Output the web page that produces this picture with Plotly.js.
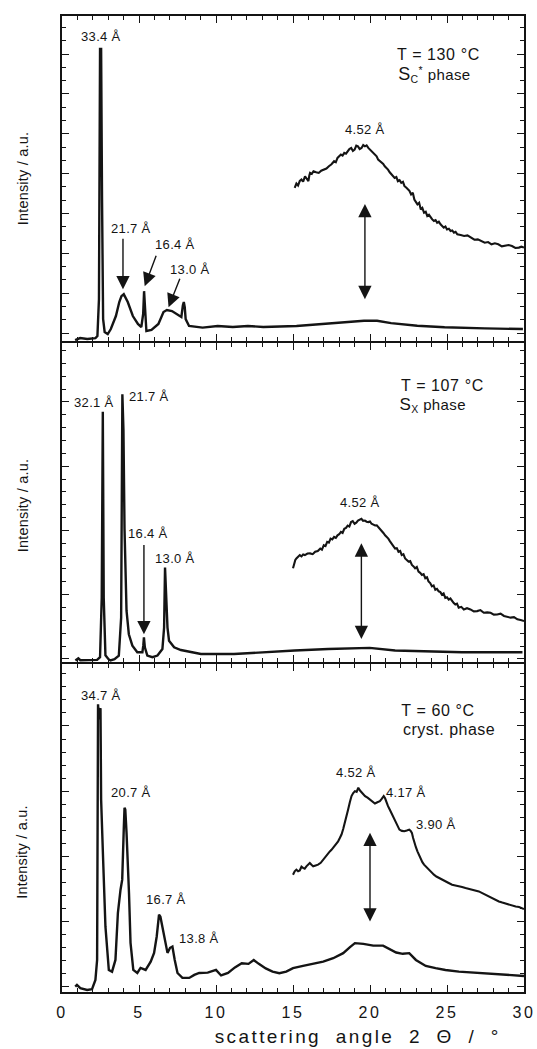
<!DOCTYPE html>
<html>
<head>
<meta charset="utf-8">
<script src="https://cdn.plot.ly/plotly-3.0.1.min.js"></script>
<style>
  html, body { margin: 0; padding: 0; background: #fff; }
  #chart { width: 537px; height: 1049px; }
  #chart .xtick text { letter-spacing: 2.5px; }
</style>
</head>
<body>
<div id="chart"></div>
<script>
// ---- 130 °C, SC* phase (top panel) ----
const topX = [0.85, 1.18, 1.64, 2.17, 2.30, 2.40, 2.47, 2.54, 2.60, 2.67, 2.77, 2.97, 3.17, 3.50, 3.72, 3.86, 4.01, 4.13, 4.27, 4.60, 4.93, 5.15, 5.27, 5.33, 5.39, 5.48, 5.81, 6.26, 6.59, 6.81, 7.14, 7.47, 7.75, 7.85, 7.91, 7.97, 8.03, 8.25, 8.68, 9.13, 10.11, 11.09, 12.07, 13.07, 15.23, 17.65, 18.63, 19.61, 20.46, 21.37, 23.07, 24.84, 27.45, 29.93];
const topY = [-0.53, -0.38, -0.45, -0.38, -0.23, 2.55, 21.38, 21.38, 10.05, 1.05, 0.08, -0.08, 0.30, 1.28, 2.33, 2.78, 2.93, 2.70, 2.33, 1.28, 0.68, 0.45, 1.43, 3.15, 1.43, 0.15, 0.23, 0.68, 1.58, 1.73, 1.65, 1.43, 1.20, 2.10, 2.33, 1.95, 1.05, 0.53, 0.45, 0.41, 0.53, 0.45, 0.53, 0.45, 0.53, 0.75, 0.86, 0.92, 0.92, 0.75, 0.55, 0.43, 0.35, 0.30];
const topWideX = [15.11, 15.22, 15.33, 15.44, 15.55, 15.66, 15.78, 15.89, 16.00, 16.06, 16.11, 16.22, 16.33, 16.50, 16.67, 16.83, 17.00, 17.17, 17.33, 17.50, 17.67, 17.78, 17.89, 18.00, 18.11, 18.22, 18.33, 18.44, 18.55, 18.66, 18.78, 18.89, 19.00, 19.11, 19.22, 19.33, 19.45, 19.56, 19.67, 19.78, 19.89, 20.00, 20.11, 20.22, 20.32, 20.43, 20.53, 20.64, 20.75, 20.86, 20.96, 21.07, 21.17, 21.28, 21.39, 21.50, 21.60, 21.71, 21.81, 21.92, 22.03, 22.14, 22.24, 22.35, 22.45, 22.56, 22.67, 22.78, 22.88, 22.98, 23.08, 23.19, 23.30, 23.40, 23.51, 23.62, 23.72, 23.83, 23.94, 24.04, 24.15, 24.26, 24.36, 24.47, 24.58, 24.68, 24.79, 24.90, 25.00, 25.12, 25.23, 25.34, 25.45, 25.56, 25.67, 25.89, 26.11, 26.33, 26.56, 26.78, 27.00, 27.22, 27.45, 27.67, 27.89, 28.11, 28.33, 28.56, 28.78, 29.00, 29.22, 29.44, 29.67, 29.83, 30.00];
const topWideY = [10.93, 11.25, 11.10, 11.45, 11.55, 11.40, 11.80, 11.62, 11.43, 11.85, 12.05, 11.98, 12.18, 12.10, 12.05, 12.22, 12.30, 12.38, 12.55, 12.70, 12.93, 12.85, 13.18, 13.30, 13.43, 13.35, 13.56, 13.50, 13.68, 13.85, 13.93, 13.70, 13.80, 14.10, 14.05, 13.85, 13.93, 14.15, 14.05, 14.12, 13.93, 13.80, 13.68, 13.60, 13.43, 13.30, 13.05, 12.95, 12.80, 12.72, 12.55, 12.45, 12.30, 12.10, 11.93, 11.85, 11.68, 11.75, 11.43, 11.50, 11.30, 11.38, 11.05, 10.95, 10.80, 10.70, 10.43, 10.55, 10.05, 9.90, 9.68, 9.80, 9.30, 9.42, 9.05, 9.12, 8.80, 8.90, 8.68, 8.55, 8.43, 8.50, 8.30, 8.38, 8.18, 8.05, 7.93, 8.02, 7.80, 7.85, 7.68, 7.72, 7.55, 7.62, 7.43, 7.38, 7.30, 7.35, 7.18, 7.02, 7.05, 6.95, 6.80, 6.85, 6.68, 6.75, 6.68, 6.52, 6.55, 6.62, 6.55, 6.40, 6.43, 6.50, 6.43];

// ---- 107 °C, SX phase (middle panel) ----
const midX = [0.87, 1.06, 1.19, 1.65, 2.28, 2.47, 2.58, 2.65, 2.71, 2.82, 3.02, 3.15, 3.41, 3.69, 3.84, 3.92, 3.99, 4.06, 4.19, 4.34, 4.57, 4.89, 5.22, 5.28, 5.32, 5.38, 5.54, 5.87, 6.20, 6.52, 6.63, 6.69, 6.76, 6.85, 6.95, 7.28, 7.72, 8.37, 9.02, 11.17, 12.94, 15.11, 17.29, 19.46, 19.98, 21.63, 23.81, 25.98, 28.15, 29.90];
const midY = [-0.12, 0.05, -0.10, -0.10, -0.08, 0.13, 4.75, 19.23, 4.75, 0.28, -0.02, -0.12, -0.02, 0.26, 3.21, 20.59, 17.82, 10.13, 3.75, 1.92, 1.03, 0.52, 0.52, 1.05, 1.67, 0.90, 0.26, 0.13, 0.26, 0.77, 2.44, 7.11, 4.75, 2.44, 1.42, 0.90, 0.69, 0.52, 0.38, 0.38, 0.52, 0.65, 0.77, 0.85, 0.86, 0.65, 0.59, 0.52, 0.52, 0.52];
const midWideX = [15.00, 15.08, 15.15, 15.22, 15.33, 15.44, 15.55, 15.66, 15.77, 15.94, 16.11, 16.28, 16.44, 16.61, 16.77, 16.88, 17.00, 17.11, 17.22, 17.33, 17.44, 17.55, 17.67, 17.78, 17.89, 18.00, 18.11, 18.22, 18.33, 18.44, 18.55, 18.66, 18.77, 18.88, 19.00, 19.11, 19.22, 19.33, 19.44, 19.55, 19.67, 19.78, 19.89, 20.00, 20.10, 20.22, 20.33, 20.44, 20.54, 20.65, 20.76, 20.87, 20.98, 21.08, 21.19, 21.30, 21.41, 21.52, 21.63, 21.74, 21.85, 21.96, 22.06, 22.17, 22.28, 22.39, 22.50, 22.61, 22.72, 22.83, 22.93, 23.04, 23.15, 23.26, 23.37, 23.48, 23.59, 23.70, 23.80, 23.91, 24.02, 24.13, 24.24, 24.35, 24.46, 24.57, 24.67, 24.78, 24.89, 25.00, 25.11, 25.22, 25.33, 25.44, 25.54, 25.65, 25.76, 25.93, 26.09, 26.30, 26.52, 26.74, 26.96, 27.17, 27.39, 27.61, 27.83, 28.04, 28.26, 28.48, 28.70, 28.91, 29.13, 29.35, 29.57, 29.78, 30.00];
const midWideY = [7.05, 7.45, 7.70, 7.82, 7.95, 8.08, 7.98, 8.12, 8.08, 8.20, 8.21, 8.15, 8.34, 8.40, 8.59, 8.50, 8.85, 8.78, 9.11, 9.05, 9.36, 9.30, 9.49, 9.42, 9.62, 9.70, 9.88, 9.80, 10.13, 10.20, 10.38, 10.30, 10.65, 10.72, 10.52, 10.60, 10.77, 10.85, 10.90, 10.75, 10.77, 10.68, 10.65, 10.70, 10.52, 10.45, 10.38, 10.40, 10.26, 10.18, 10.00, 9.80, 9.62, 9.50, 9.36, 9.15, 8.98, 8.85, 8.59, 8.62, 8.34, 8.40, 8.08, 8.15, 7.82, 7.70, 7.57, 7.62, 7.31, 7.20, 7.05, 7.15, 6.80, 6.70, 6.54, 6.60, 6.28, 6.35, 6.03, 5.90, 5.65, 5.72, 5.38, 5.45, 5.26, 5.20, 5.00, 5.10, 4.75, 4.80, 4.62, 4.70, 4.49, 4.35, 4.23, 4.30, 3.98, 4.05, 3.85, 3.95, 3.85, 3.70, 3.72, 3.80, 3.59, 3.62, 3.59, 3.45, 3.46, 3.52, 3.34, 3.25, 3.21, 3.25, 3.08, 3.02, 2.95];

// ---- 60 °C, crystalline phase (bottom panel) ----
const botX = [0.86, 0.97, 1.19, 1.63, 1.95, 2.17, 2.28, 2.31, 2.34, 2.39, 2.43, 2.50, 2.54, 2.67, 2.82, 3.04, 3.25, 3.47, 3.63, 3.80, 3.91, 4.01, 4.06, 4.11, 4.19, 4.35, 4.45, 4.63, 4.89, 5.10, 5.43, 5.76, 5.98, 6.15, 6.30, 6.39, 6.46, 6.63, 6.85, 7.02, 7.17, 7.32, 7.50, 7.82, 8.26, 8.59, 8.91, 9.46, 10.00, 10.33, 10.78, 11.23, 11.67, 12.11, 12.45, 12.78, 13.23, 13.67, 14.11, 14.56, 15.00, 15.65, 16.31, 16.96, 17.61, 18.26, 18.70, 19.02, 19.57, 20.21, 20.85, 21.28, 21.70, 22.13, 22.55, 22.98, 23.62, 24.26, 24.90, 25.77, 26.86, 27.94, 29.03, 30.00];
const botY = [0.00, 0.13, -0.12, -0.25, -0.20, 0.52, 2.05, 10.50, 21.67, 20.50, 21.30, 21.28, 14.36, 9.75, 4.62, 1.28, 1.15, 2.05, 5.67, 7.44, 8.21, 12.05, 13.72, 13.59, 11.82, 7.21, 3.36, 1.28, 1.05, 1.44, 1.28, 1.92, 2.59, 3.85, 5.52, 5.36, 4.90, 3.85, 2.59, 2.98, 3.08, 2.05, 1.05, 0.67, 0.67, 0.90, 1.05, 1.08, 1.28, 0.86, 1.05, 1.48, 1.80, 1.75, 2.05, 1.75, 1.40, 1.15, 1.03, 1.15, 1.42, 1.59, 1.75, 1.92, 2.18, 2.57, 3.03, 3.34, 3.28, 3.15, 3.15, 2.88, 2.62, 2.52, 2.57, 2.05, 1.59, 1.42, 1.28, 1.15, 1.08, 0.98, 0.90, 0.82];
const botWideX = [15.00, 15.11, 15.22, 15.33, 15.44, 15.55, 15.65, 15.76, 15.87, 15.98, 16.09, 16.20, 16.31, 16.47, 16.63, 16.80, 16.96, 17.07, 17.18, 17.29, 17.39, 17.50, 17.61, 17.77, 17.93, 18.04, 18.15, 18.26, 18.37, 18.47, 18.58, 18.69, 18.80, 18.91, 19.02, 19.13, 19.24, 19.35, 19.46, 19.57, 19.68, 19.84, 20.00, 20.16, 20.32, 20.48, 20.64, 20.76, 20.89, 20.98, 21.07, 21.17, 21.28, 21.38, 21.49, 21.60, 21.70, 21.80, 21.91, 22.07, 22.23, 22.39, 22.55, 22.64, 22.72, 22.80, 22.87, 22.98, 23.08, 23.19, 23.30, 23.40, 23.51, 23.67, 23.83, 23.99, 24.15, 24.31, 24.47, 24.68, 24.90, 25.11, 25.33, 25.55, 25.76, 25.98, 26.20, 26.41, 26.63, 26.85, 27.07, 27.29, 27.50, 27.72, 27.94, 28.15, 28.37, 28.59, 28.81, 29.02, 29.24, 29.46, 29.68, 29.84, 30.00];
const botWideY = [8.59, 8.85, 8.98, 8.85, 8.92, 9.20, 9.11, 9.05, 9.23, 9.40, 9.49, 9.35, 9.23, 9.30, 9.36, 9.50, 9.75, 9.95, 10.13, 10.22, 10.38, 10.50, 10.65, 10.85, 11.15, 11.40, 11.67, 12.10, 12.57, 13.05, 13.59, 14.15, 14.62, 14.85, 15.00, 14.95, 15.26, 15.05, 14.88, 14.80, 14.62, 14.50, 14.36, 14.25, 14.05, 14.15, 14.23, 14.40, 14.62, 14.45, 14.11, 13.85, 13.59, 13.35, 13.08, 12.80, 12.57, 12.30, 12.05, 11.95, 11.92, 11.98, 12.05, 11.95, 11.80, 11.40, 11.03, 10.70, 10.38, 10.05, 9.75, 9.55, 9.36, 9.15, 8.98, 8.80, 8.59, 8.45, 8.34, 8.20, 8.08, 7.95, 7.82, 7.78, 7.69, 7.65, 7.57, 7.50, 7.44, 7.40, 7.31, 7.18, 7.05, 6.92, 6.80, 6.68, 6.54, 6.45, 6.36, 6.28, 6.21, 6.15, 6.11, 6.02, 5.95];

// ---- text labels ----
const xTickVals = [0, 5, 10, 15, 20, 25, 30];
const xTitle = 'scattering angle 2 \u0398 / \u00b0';
const yTitle = 'Intensity / a.u.';

const FONT = 'Liberation Sans, Arial, Helvetica, sans-serif';
const INK = '#141414';

function curve(x, y, xa, ya, w) {
  return { x: x, y: y, xaxis: xa, yaxis: ya, type: 'scatter', mode: 'lines',
           line: { color: INK, width: w, shape: 'linear' }, hoverinfo: 'skip', showlegend: false };
}

const data = [
  curve(botX, botY, 'x', 'y', 2.4), curve(botWideX, botWideY, 'x', 'y', 2.1),
  curve(midX, midY, 'x2', 'y2', 2.4), curve(midWideX, midWideY, 'x2', 'y2', 2.1),
  curve(topX, topY, 'x3', 'y3', 2.4), curve(topWideX, topWideY, 'x3', 'y3', 2.1)
];

// boxed axes: long ticks on the labelled steps, short ticks at every unit, mirrored inside the frame
function frameAxis() {
  return {
    showline: true, linecolor: INK, linewidth: 2, mirror: 'ticks',
    ticks: 'inside', ticklen: 7, tickcolor: INK,
    showgrid: true, gridcolor: 'rgba(0,0,0,0)', zeroline: false,
    minor: { ticks: 'inside', ticklen: 4, tickcolor: INK, dtick: 1 }
  };
}
function xAxis(anchor, labels) {
  return Object.assign(frameAxis(), {
    anchor: anchor, domain: [0, 1], range: [xTickVals[0], xTickVals[xTickVals.length - 1]],
    tickmode: 'linear', tick0: xTickVals[0], dtick: xTickVals[1] - xTickVals[0],
    showticklabels: labels, ticklabelstandoff: 5, tickfont: { family: FONT, size: 16, color: INK }
  });
}
function yAxis(anchor, domain, range, dtick) {
  return Object.assign(frameAxis(), {
    anchor: anchor, domain: domain, range: range, tickmode: 'linear', tick0: 0, dtick: dtick,
    showticklabels: false
  });
}

// annotations, with per-annotation letter spacing applied through CSS afterwards
const annotations = [];
const spacing = [];
function label(text, xr, yr, x, y, size, anchor, ls) {
  annotations.push({ text: text, xref: xr, yref: yr, x: x, y: y, showarrow: false,
           xanchor: anchor || 'center', yanchor: 'middle',
           font: { family: FONT, size: size, color: INK } });
  spacing.push(ls || 0);
  return annotations[annotations.length - 1];
}
function arrow(xr, yr, x, y, ax, ay, both) {
  annotations.push({ text: '', xref: xr, yref: yr, axref: xr, ayref: yr, x: x, y: y, ax: ax, ay: ay,
           showarrow: true, arrowhead: 2, arrowsize: 1.9, arrowwidth: 1.4, arrowcolor: INK,
           arrowside: both ? 'end+start' : 'end', startarrowhead: 2, startarrowsize: 1.9,
           standoff: 0, startstandoff: 0 });
  spacing.push(0);
}

// top panel
label('33.4 \u00c5', 'x3', 'y3', 2.53, 22.28, 13, 'center', 0.3);
label('21.7 \u00c5', 'x3', 'y3', 4.49, 7.88, 13, 'center', 0.3);
label('16.4 \u00c5', 'x3', 'y3', 7.34, 6.68, 13, 'center', 0.3);
label('13.0 \u00c5', 'x3', 'y3', 8.33, 4.80, 13, 'center', 0.3);
label('4.52 \u00c5', 'x3', 'y3', 19.67, 15.3, 13, 'center', 0.3);
label('T = 130 \u00b0C', 'x3', 'y3', 21.85, 20.93, 16, 'left', 0.6);
label('<span style="font-size:18px">S</span><sub>C</sub><sup>*</sup> phase', 'x3', 'y3', 21.85, 19.45, 15, 'left', 0.4);
arrow('x3', 'y3', 3.96, 3.3, 3.96, 7.2);
arrow('x3', 'y3', 5.37, 3.53, 6.15, 5.93);
arrow('x3', 'y3', 6.92, 1.95, 7.69, 4.2);
arrow('x3', 'y3', 19.67, 2.55, 19.67, 9.83, true);
// middle panel
label('32.1 \u00c5', 'x2', 'y2', 2.06, 19.92, 13, 'center', 0.3);
label('21.7 \u00c5', 'x2', 'y2', 5.65, 20.44, 13, 'center', 0.3);
label('16.4 \u00c5', 'x2', 'y2', 5.60, 9.75, 13, 'center', 0.3);
label('13.0 \u00c5', 'x2', 'y2', 7.31, 7.82, 13, 'center', 0.3);
label('4.52 \u00c5', 'x2', 'y2', 19.33, 12.18, 13, 'center', 0.3);
label('T = 107 \u00b0C', 'x2', 'y2', 22.1, 21.25, 16, 'left', 0.6);
label('<span style="font-size:17px">S</span><sub>X</sub> phase', 'x2', 'y2', 21.86, 19.75, 15, 'left', 0.4);
arrow('x2', 'y2', 5.32, 1.92, 5.32, 8.98);
arrow('x2', 'y2', 19.44, 1.54, 19.44, 9.11, true);
// bottom panel
label('34.7 \u00c5', 'x', 'y', 2.5, 22.3, 13, 'center', 0.3);
label('20.7 \u00c5', 'x', 'y', 4.46, 14.92, 13, 'center', 0.3);
label('16.7 \u00c5', 'x', 'y', 6.74, 6.67, 13, 'center', 0.3);
label('13.8 \u00c5', 'x', 'y', 8.92, 3.72, 13, 'center', 0.3);
label('4.52 \u00c5', 'x', 'y', 19.1, 16.42, 13, 'center', 0.3);
label('4.17 \u00c5', 'x', 'y', 22.35, 14.88, 13, 'center', 0.3);
label('3.90 \u00c5', 'x', 'y', 24.26, 12.44, 13, 'center', 0.3);
label('T = 60 \u00b0C', 'x', 'y', 22.1, 21.15, 16, 'left', 0.6);
label('cryst. phase', 'x', 'y', 22.2, 19.7, 16, 'left', 0.5);
arrow('x', 'y', 20.0, 5.0, 20.0, 11.92, true);
// axis titles
label(yTitle, 'paper', 'paper', -0.085, 0.833, 14.5, 'center', 0.2).textangle = -90;
label(yTitle, 'paper', 'paper', -0.085, 0.498, 14.5, 'center', 0.2).textangle = -90;
label(yTitle, 'paper', 'paper', -0.085, 0.143, 14.5, 'center', 0.2).textangle = -90;
label(xTitle, 'paper', 'paper', 0.639, -0.046, 19, 'center', 2.4);

// letter spacing rules for the annotation texts
const rules = spacing.map(function (ls, i) {
  return ls ? '#chart .annotation[data-index="' + i + '"] text { letter-spacing: ' + ls + 'px; }' : '';
}).join('\n');
const styleEl = document.createElement('style');
styleEl.textContent = rules + '\n#chart .annotation[data-index="' + (annotations.length - 1) +
  '"] text { word-spacing: 7px; }';
document.head.appendChild(styleEl);

const botRange = [-0.41, 24.75];
const midRange = [-0.25, 24.59];
const topRange = [-0.6, 23.86];

// neighbouring frames share one border line: domains leave a line-width gap
const layout = {
  width: 537, height: 1049,
  margin: { l: 62, r: 13, t: 16, b: 57 },
  paper_bgcolor: '#fff', plot_bgcolor: 'rgba(0,0,0,0)',
  font: { family: FONT, color: INK },
  showlegend: false,
  xaxis: xAxis('y', true),
  xaxis2: xAxis('y2', false),
  xaxis3: xAxis('y3', false),
  yaxis: yAxis('x', [0, 0.336], botRange, 5),
  yaxis2: yAxis('x2', [0.338, 0.665], midRange, 5),
  yaxis3: yAxis('x3', [0.667, 1], topRange, 3),
  annotations: annotations
};

Plotly.newPlot('chart', data, layout, { displayModeBar: false, staticPlot: true });
</script>
</body>
</html>
